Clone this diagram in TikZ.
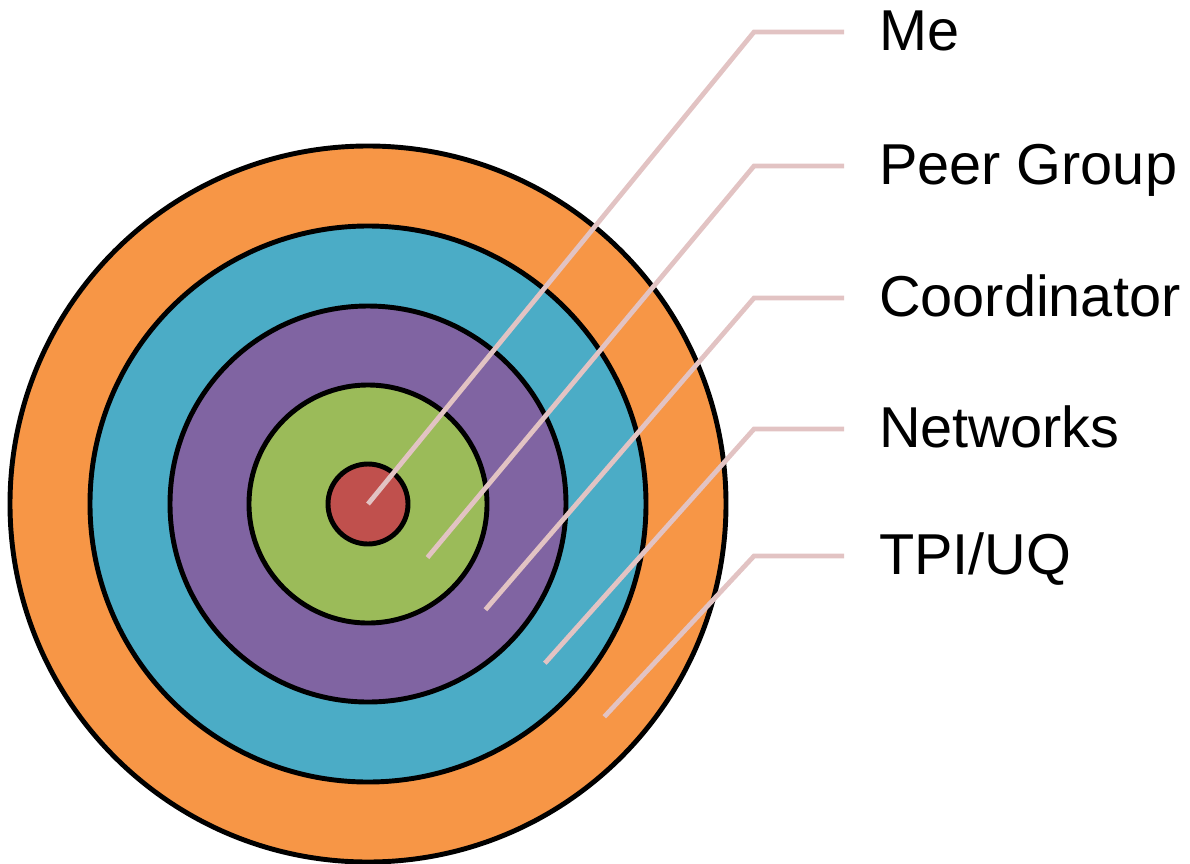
\documentclass[tikz,border=0pt]{standalone}
\usepackage{fontspec}
\setmainfont{Liberation Sans}
\usetikzlibrary{positioning}

\definecolor{tpiorange}{HTML}{F79646}
\definecolor{netblue}{HTML}{4BACC6}
\definecolor{coordpurple}{HTML}{8064A2}
\definecolor{peergreen}{HTML}{9BBB59}
\definecolor{mered}{HTML}{C0504D}
\definecolor{leaderpink}{HTML}{E2C3C3}

\begin{document}
\begin{tikzpicture}[
        x=0.025cm, y=-0.025cm,
        ring/.style = {draw=black, line width=3.5pt},
        leader/.style = {draw=leaderpink, line width=3.4pt},
        lbl/.style = {
        anchor=west, inner xsep=0.87cm, inner ysep=0pt,
        text height=0.925cm, text depth=0pt,
        font=\fontsize{41}{49}\selectfont
        }
        ]
    \useasboundingbox (0,0) rectangle (1190,863);
    \coordinate (c) at (368,504);
    \coordinate (knee) at (754,0);

    % rings, outermost first
    \foreach \r/\col in {358/tpiorange, 278/netblue, 198/coordpurple, 119/peergreen, 40/mered}
        \filldraw[ring, fill=\col] (c) circle (\r);

    % labels
    \node[lbl] (me) at (844,32) {Me};
    \node[lbl] (peer) at (844,166) {Peer Group};
    \node[lbl] (coord) at (844,298) {Coordinator};
    \node[lbl] (net) at (844,429) {Networks};
    \node[lbl] (tpi) at (844,556) {TPI/UQ};

    % leaders from the middle of each ring
    \foreach \lab/\r in {me/0, peer/80, coord/158, net/238, tpi/318}
        \draw[leader] ([shift={(42:\r)}]c) -- (knee |- \lab.west) -- (\lab.west);
\end{tikzpicture}
\end{document}
